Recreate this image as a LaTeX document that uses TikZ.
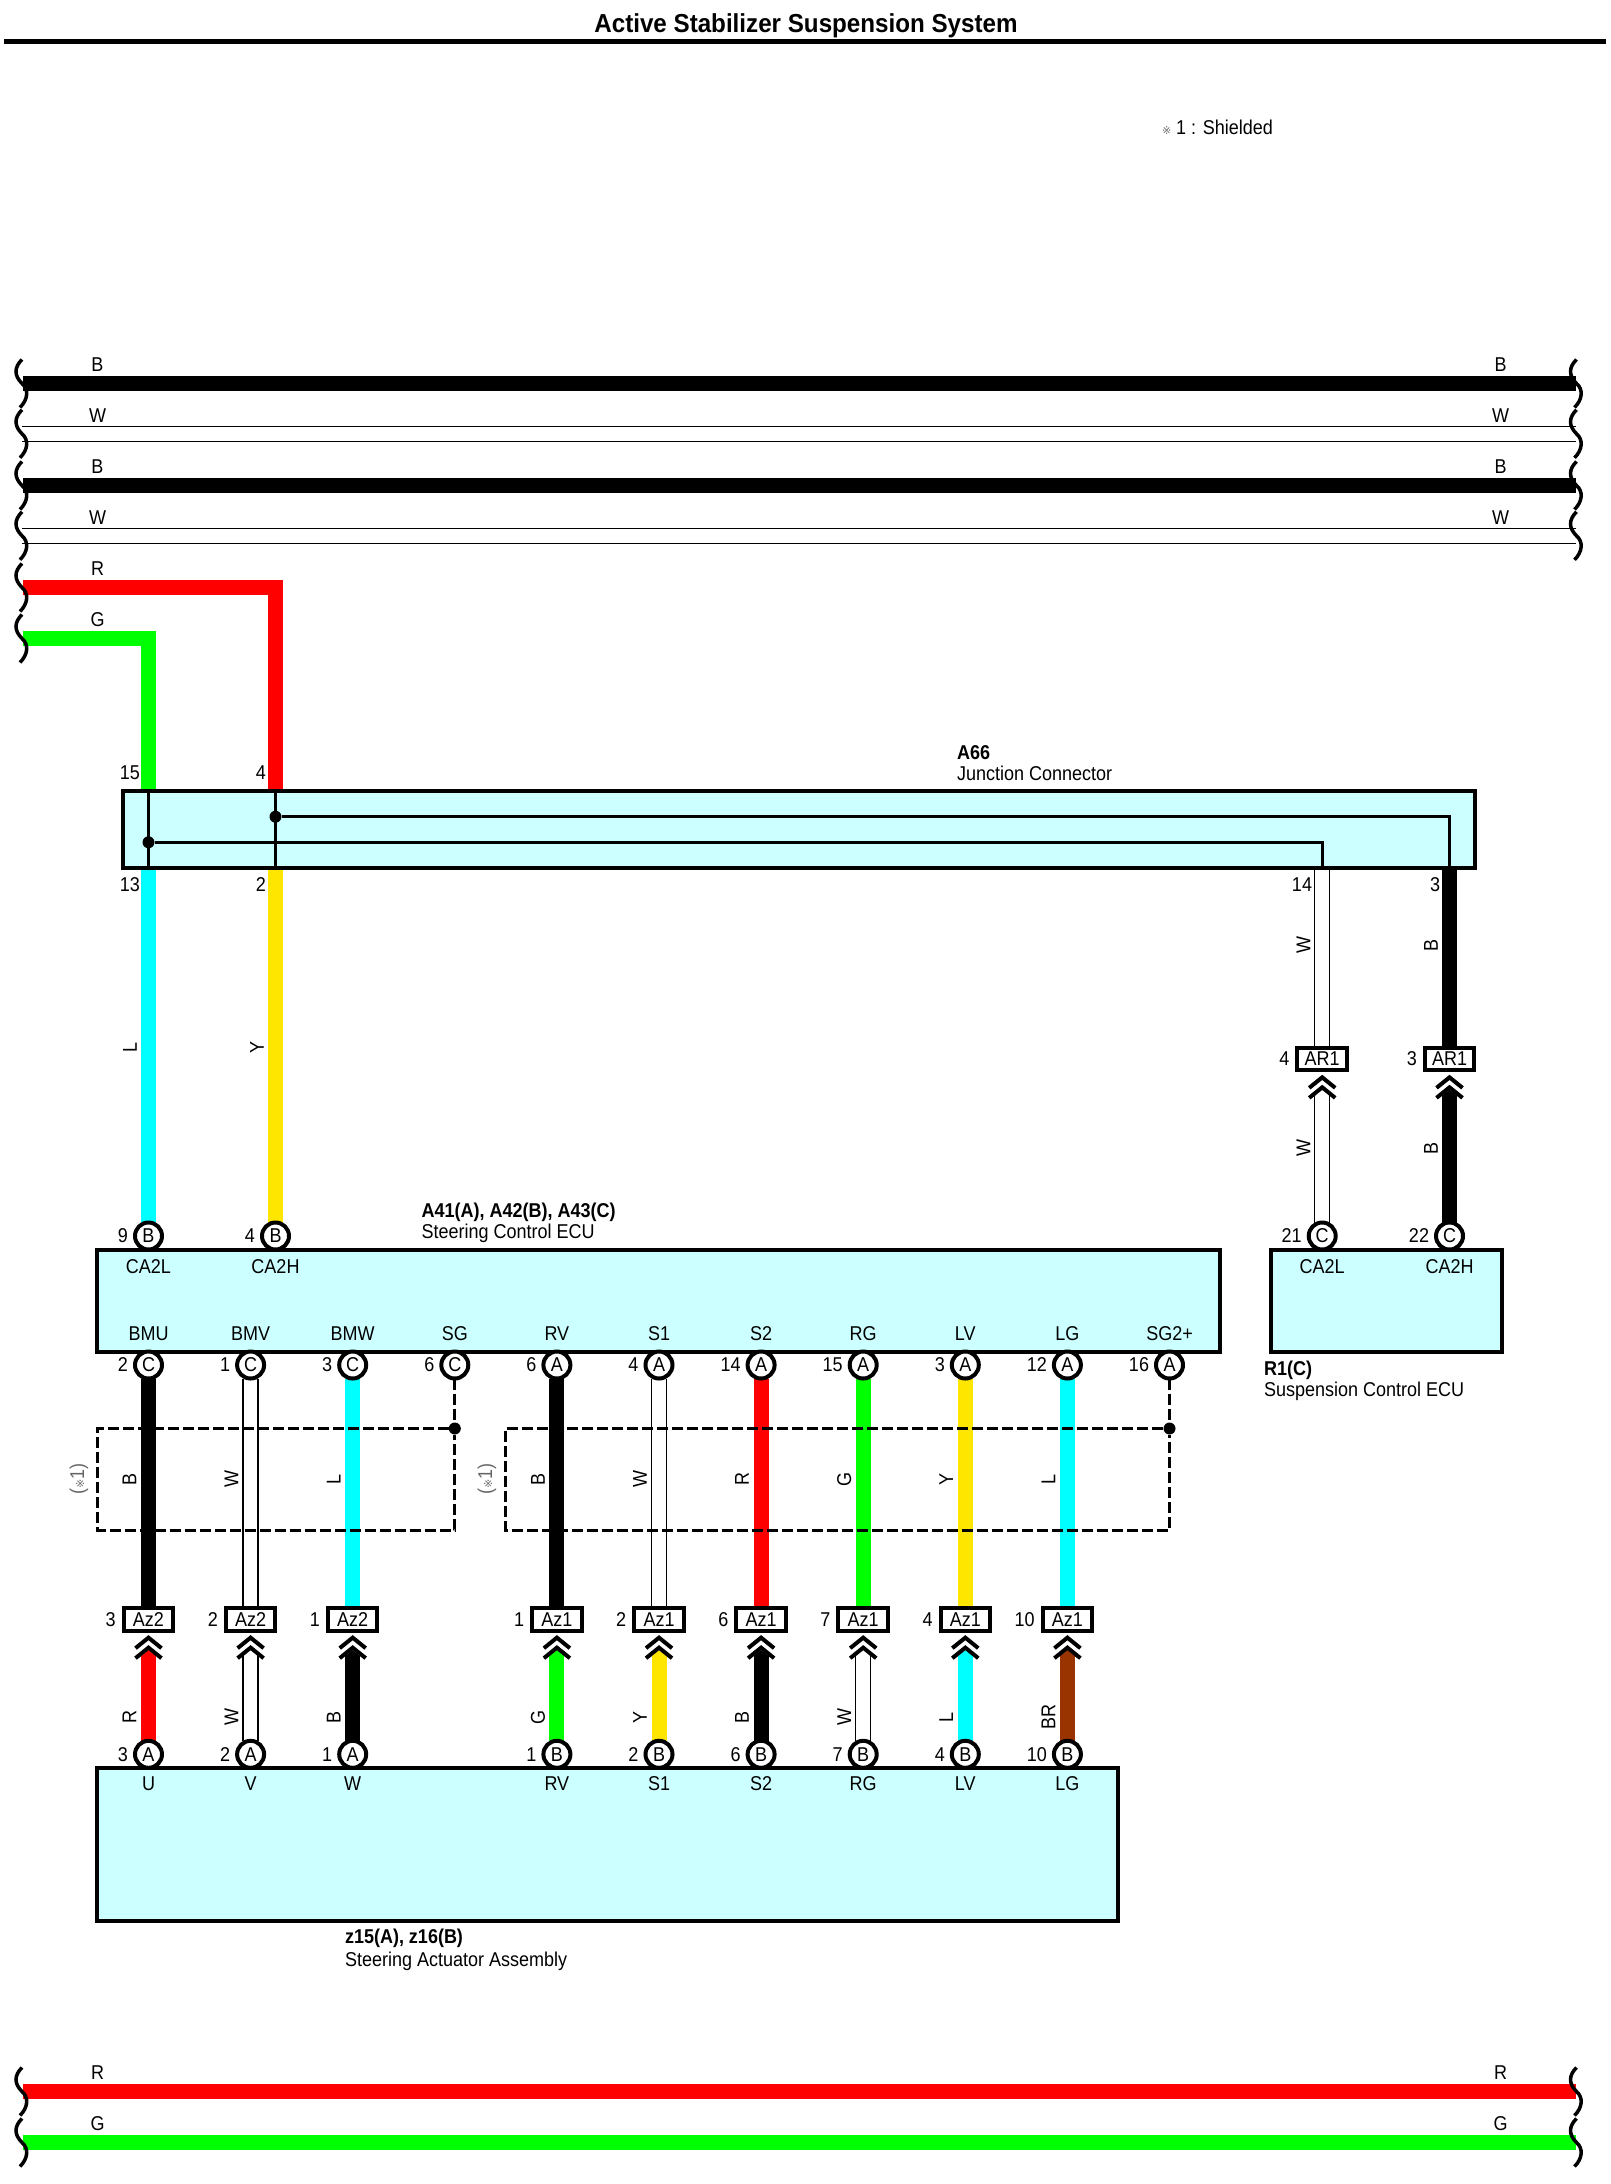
\documentclass[tikz,border=0pt]{standalone}
\usepackage{fontspec}
\setmainfont[FakeStretch=0.9]{Liberation Sans}
\newfontfamily\titlefont[FakeStretch=0.93]{Liberation Sans}
\newfontfamily\marksym{DejaVu Sans}
\usetikzlibrary{arrows.meta}
\pgfdeclarelayer{bg}
\pgfsetlayers{bg,main}
\definecolor{ecufill}{HTML}{CCFFFF}
\definecolor{wirecyan}{HTML}{00FFFF}
\definecolor{wireyellow}{HTML}{FFE600}
\definecolor{wirebrown}{HTML}{993300}
\definecolor{wiregreen}{HTML}{00FF00}
\definecolor{wirered}{HTML}{FF0000}
\newcommand{\shmark}{{\marksym\fontsize{11}{12}\selectfont\textcolor{black!55}{※}}}
\tikzset{
  txt/.style={inner sep=0pt,outer sep=0pt,font=\fontsize{20}{24}\selectfont},
  boldtxt/.style={txt,anchor=base west,font=\fontsize{20}{24}\selectfont\bfseries},
  plaintxt/.style={txt,anchor=base west},
  wtag/.style={txt,rotate=90},
  ecubox/.style={draw,line width=4pt,fill=ecufill,anchor=north west,inner sep=0pt,outer sep=0pt},
  termc/.style={txt,circle,draw,line width=4pt,fill=white,minimum size=27pt},
  azbox/.style={txt,rectangle,draw,line width=4pt,fill=white,minimum width=49.5pt,minimum height=22.7pt},
  numc/.style={label={[txt,xshift=-7pt]left:#1}},
  numa/.style={label={[txt,xshift=-8pt]left:#1}},
  wire/.style={line width=15pt},
  wireblk/.style={wire,draw=black},
  wirecyn/.style={wire,draw=wirecyan},
  wireyel/.style={wire,draw=wireyellow},
  wirered/.style={wire,draw=wirered},
  wiregrn/.style={wire,draw=wiregreen},
  wirebrn/.style={wire,draw=wirebrown},
  wirewht/.style={line width=1.3pt,draw=black,double=white,double distance=13.7pt},
  tipup/.style={shorten >=19.5pt,-{Triangle[width=15pt,length=6pt]}},
  wirewhtup/.style={wirewht,shorten >=22pt},
  inner/.style={line width=3pt},
  shield/.style={line width=3pt,dash pattern=on 11pt off 4pt},
  jdot/.style={circle,fill=black,inner sep=0pt,minimum size=12pt},
  brk/.pic={\draw[line width=3.5pt] (1,-24) .. controls (-7,-16) and (-7,-8) .. (1,0) .. controls (8,6) and (7,16) .. (-1,24);},
  chevs/.pic={
    \draw[line width=4pt] (-13,17.5) -- (0,7) -- (13,17.5);
    \draw[line width=4pt] (-13,27.5) -- (0,17) -- (13,27.5);
  }
}
\begin{document}
\begin{tikzpicture}[x=1pt,y=-1pt]
  \useasboundingbox (0,0) rectangle (1611,2184);

  \coordinate (ruleL) at (4,41.5);
  \coordinate (ruleR) at (1606,41.5);
  \draw[line width=5pt] (ruleL) -- (ruleR);
  \node[txt,anchor=base,font=\fontsize{26}{30}\selectfont\titlefont\bfseries] (title) at (806,33) {Active Stabilizer Suspension System};
  \node[plaintxt] (shnote) at (1162,134) {\shmark\ 1 : Shielded};

  \coordinate (bL1) at (21,383.5);
  \coordinate (bR1) at (1575.5,383.5);
  \coordinate (wL1) at (21,433.8);
  \coordinate (wR1) at (1575.5,433.8);
  \coordinate (bL2) at (21,485.5);
  \coordinate (bR2) at (1575.5,485.5);
  \coordinate (wL2) at (21,535.8);
  \coordinate (wR2) at (1575.5,535.8);
  \coordinate (rL1) at (21,587.5);
  \coordinate (gL1) at (21,638.5);
  \coordinate (rL2) at (21,2091.5);
  \coordinate (rR2) at (1575.5,2091.5);
  \coordinate (gL2) at (21,2142.5);
  \coordinate (gR2) at (1575.5,2142.5);

  \node[txt] (tB1) at (97.5,365) {B};
  \node[txt] (tW1) at (97.5,416) {W};
  \node[txt] (tB2) at (97.5,467) {B};
  \node[txt] (tW2) at (97.5,518) {W};
  \node[txt] (tR1) at (97.5,569) {R};
  \node[txt] (tG1) at (97.5,620) {G};
  \node[txt] (tB3) at (1500.5,365) {B};
  \node[txt] (tW3) at (1500.5,416) {W};
  \node[txt] (tB4) at (1500.5,467) {B};
  \node[txt] (tW4) at (1500.5,518) {W};
  \node[txt] (tR2) at (97.5,2073) {R};
  \node[txt] (tG2) at (97.5,2124) {G};
  \node[txt] (tR3) at (1500.5,2073) {R};
  \node[txt] (tG3) at (1500.5,2124) {G};

  \node[ecubox,minimum width=1352.5pt,minimum height=77pt] (jc) at (122.7,791) {};
  \node[plaintxt,font=\fontsize{20}{24}\selectfont\bfseries] (jcid) at (957,759) {A66};
  \node[plaintxt] (jcname) at (957,780) {Junction Connector};
  \node[ecubox,minimum width=1123.7pt,minimum height=101.7pt] (ecu) at (96.7,1250) {};
  \node[boldtxt] (ecuid) at (421.7,1217) {A41(A), A42(B), A43(C)};
  \node[plaintxt] (ecuname) at (421.7,1238) {Steering Control ECU};
  \node[ecubox,minimum width=231pt,minimum height=101.7pt] (susp) at (1270.5,1250) {};
  \node[boldtxt] (suspid) at (1264,1375) {R1(C)};
  \node[plaintxt] (suspname) at (1264,1396) {Suspension Control ECU};
  \node[ecubox,minimum width=1021.6pt,minimum height=152.7pt] (act) at (96.7,1768) {};
  \node[boldtxt] (actid) at (345,1943) {z15(A), z16(B)};
  \node[plaintxt] (actname) at (345,1966) {Steering Actuator Assembly};

  \coordinate (j15) at (148.5,791);
  \coordinate (j13) at (148.5,868);
  \coordinate (j4) at (275.5,791);
  \coordinate (j2) at (275.5,868);
  \coordinate (j14) at (1322.2,868);
  \coordinate (j3) at (1449.5,868);
  \node[jdot] (jd1) at (148.5,842.3) {};
  \node[jdot] (jd2) at (275.5,816.7) {};
  \draw[inner] (j15) -- (j13);
  \draw[inner] (j4) -- (j2);
  \draw[inner] (jd1) -| (j14);
  \draw[inner] (jd2) -| (j3);

  \node[txt,anchor=east] (n15) at (140,773) {15};
  \node[txt,anchor=east] (n4) at (266,773) {4};
  \node[txt,anchor=east] (n13) at (140,885) {13};
  \node[txt,anchor=east] (n2) at (266,885) {2};
  \node[txt,anchor=east] (n14) at (1312,885) {14};
  \node[txt,anchor=east] (n3) at (1440,885) {3};

  \node[termc,numc=9] (e9) at (148.5,1236) {B};
  \node[termc,numc=4] (e4) at (275.5,1236) {B};
  \node[termc,numc=21] (s21) at (1322.2,1236) {C};
  \node[termc,numc=22] (s22) at (1449.5,1236) {C};
  \node[azbox,numa=4] (ar4) at (1322.2,1059) {AR1};
  \node[azbox,numa=3] (ar3) at (1449.5,1059) {AR1};

  \node[txt] (pCA2L) at (148.5,1267) {CA2L};
  \node[txt] (pCA2H) at (275.5,1267) {CA2H};
  \node[txt] (qCA2L) at (1322.2,1267) {CA2L};
  \node[txt] (qCA2H) at (1449.5,1267) {CA2H};

  \node[txt] (pBMU) at (148.5,1334) {BMU};
  \node[txt] (pBMV) at (250.6,1334) {BMV};
  \node[txt] (pBMW) at (352.7,1334) {BMW};
  \node[txt] (pSG) at (454.8,1334) {SG};
  \node[txt] (pRV) at (556.9,1334) {RV};
  \node[txt] (pS1) at (659,1334) {S1};
  \node[txt] (pS2) at (761.1,1334) {S2};
  \node[txt] (pRG) at (863.2,1334) {RG};
  \node[txt] (pLV) at (965.3,1334) {LV};
  \node[txt] (pLG) at (1067.4,1334) {LG};
  \node[txt] (pSGp) at (1169.5,1334) {SG2+};

  \node[termc,numc=2] (c1) at (148.5,1365) {C};
  \node[termc,numc=1] (c2) at (250.6,1365) {C};
  \node[termc,numc=3] (c3) at (352.7,1365) {C};
  \node[termc,numc=6] (c4) at (454.8,1365) {C};
  \node[termc,numc=6] (c5) at (556.9,1365) {A};
  \node[termc,numc=4] (c6) at (659,1365) {A};
  \node[termc,numc=14] (c7) at (761.1,1365) {A};
  \node[termc,numc=15] (c8) at (863.2,1365) {A};
  \node[termc,numc=3] (c9) at (965.3,1365) {A};
  \node[termc,numc=12] (c10) at (1067.4,1365) {A};
  \node[termc,numc=16] (c11) at (1169.5,1365) {A};

  \node[azbox,numa=3] (az1) at (148.5,1619.3) {Az2};
  \node[azbox,numa=2] (az2) at (250.6,1619.3) {Az2};
  \node[azbox,numa=1] (az3) at (352.7,1619.3) {Az2};
  \node[azbox,numa=1] (az5) at (556.9,1619.3) {Az1};
  \node[azbox,numa=2] (az6) at (659,1619.3) {Az1};
  \node[azbox,numa=6] (az7) at (761.1,1619.3) {Az1};
  \node[azbox,numa=7] (az8) at (863.2,1619.3) {Az1};
  \node[azbox,numa=4] (az9) at (965.3,1619.3) {Az1};
  \node[azbox,numa=10] (az10) at (1067.4,1619.3) {Az1};

  \node[termc,numc=3] (m1) at (148.5,1754.3) {A};
  \node[termc,numc=2] (m2) at (250.6,1754.3) {A};
  \node[termc,numc=1] (m3) at (352.7,1754.3) {A};
  \node[termc,numc=1] (m5) at (556.9,1754.3) {B};
  \node[termc,numc=2] (m6) at (659,1754.3) {B};
  \node[termc,numc=6] (m7) at (761.1,1754.3) {B};
  \node[termc,numc=7] (m8) at (863.2,1754.3) {B};
  \node[termc,numc=4] (m9) at (965.3,1754.3) {B};
  \node[termc,numc=10] (m10) at (1067.4,1754.3) {B};

  \node[txt] (pU) at (148.5,1784) {U};
  \node[txt] (pV) at (250.6,1784) {V};
  \node[txt] (pW) at (352.7,1784) {W};
  \node[txt] (qRV) at (556.9,1784) {RV};
  \node[txt] (qS1) at (659,1784) {S1};
  \node[txt] (qS2) at (761.1,1784) {S2};
  \node[txt] (qRG) at (863.2,1784) {RG};
  \node[txt] (qLV) at (965.3,1784) {LV};
  \node[txt] (qLG) at (1067.4,1784) {LG};

  \begin{pgfonlayer}{bg}
    \draw[wireblk,shorten <=2pt] (bL1) -- (bR1);
    \draw[wirewht,shorten <=1pt] (wL1) -- (wR1);
    \draw[wireblk,shorten <=2pt] (bL2) -- (bR2);
    \draw[wirewht,shorten <=1pt] (wL2) -- (wR2);
    \draw[wirered,shorten <=2pt] (rL1) -| (j4);
    \draw[wiregrn,shorten <=2pt] (gL1) -| (j15);
    \draw[wirered,shorten <=2pt] (rL2) -- (rR2);
    \draw[wiregrn,shorten <=2pt] (gL2) -- (gR2);

    \draw[wirecyn] (j13) -- (e9);
    \draw[wireyel] (j2) -- (e4);
    \draw[wirewht] (j14) -- (ar4);
    \draw[wireblk] (j3) -- (ar3);
    \draw[wirewhtup] (s21) -- (ar4.south);
    \draw[wireblk,tipup] (s22) -- (ar3.south);

    \draw[wireblk] (c1) -- (az1);
    \draw[wirewht] (c2) -- (az2);
    \draw[wirecyn] (c3) -- (az3);
    \draw[wireblk] (c5) -- (az5);
    \draw[wirewht] (c6) -- (az6);
    \draw[wirered] (c7) -- (az7);
    \draw[wiregrn] (c8) -- (az8);
    \draw[wireyel] (c9) -- (az9);
    \draw[wirecyn] (c10) -- (az10);

    \draw[wirered,tipup] (m1) -- (az1.south);
    \draw[wirewhtup] (m2) -- (az2.south);
    \draw[wireblk,tipup] (m3) -- (az3.south);
    \draw[wiregrn,tipup] (m5) -- (az5.south);
    \draw[wireyel,tipup] (m6) -- (az6.south);
    \draw[wireblk,tipup] (m7) -- (az7.south);
    \draw[wirewhtup] (m8) -- (az8.south);
    \draw[wirecyn,tipup] (m9) -- (az9.south);
    \draw[wirebrn,tipup] (m10) -- (az10.south);
  \end{pgfonlayer}

  \pic at (bL1) {brk};
  \pic at (wL1) {brk};
  \pic at (bL2) {brk};
  \pic at (wL2) {brk};
  \pic at (rL1) {brk};
  \pic at (gL1) {brk};
  \pic at (bR1) {brk};
  \pic at (wR1) {brk};
  \pic at (bR2) {brk};
  \pic at (wR2) {brk};
  \pic at (rL2) {brk};
  \pic at (gL2) {brk};
  \pic at (rR2) {brk};
  \pic at (gR2) {brk};

  \pic at (ar4.south) {chevs};
  \pic at (ar3.south) {chevs};
  \pic at (az1.south) {chevs};
  \pic at (az2.south) {chevs};
  \pic at (az3.south) {chevs};
  \pic at (az5.south) {chevs};
  \pic at (az6.south) {chevs};
  \pic at (az7.south) {chevs};
  \pic at (az8.south) {chevs};
  \pic at (az9.south) {chevs};
  \pic at (az10.south) {chevs};

  \node[jdot] (sd1) at (454.8,1428.5) {};
  \node[jdot] (sd2) at (1169.5,1428.5) {};
  \draw[shield] (c4) -- (sd1);
  \draw[shield] (c11) -- (sd2);
  \draw[shield] (sd1) -- (97.3,1428.5) -- (97.3,1530) -- (454.8,1530) -- (sd1);
  \draw[shield] (sd2) -- (505.7,1428.5) -- (505.7,1530) -- (1169.5,1530) -- (sd2);
  \node[wtag] (sh1) at (79,1479) {\textcolor{black!60}{(\shmark1)}};
  \node[wtag] (sh2) at (487,1479) {\textcolor{black!60}{(\shmark1)}};

  \node[wtag] (lL) at (130,1047) {L};
  \node[wtag] (lY) at (257,1047) {Y};
  \node[wtag] (lW1) at (1303.5,945) {W};
  \node[wtag] (lB1) at (1431,945) {B};
  \node[wtag] (lW2) at (1303.5,1148) {W};
  \node[wtag] (lB2) at (1431,1148) {B};

  \node[wtag] (u1) at (129.5,1479) {B};
  \node[wtag] (u2) at (231.6,1479) {W};
  \node[wtag] (u3) at (333.7,1479) {L};
  \node[wtag] (u5) at (537.9,1479) {B};
  \node[wtag] (u6) at (640,1479) {W};
  \node[wtag] (u7) at (742.1,1479) {R};
  \node[wtag] (u8) at (844.2,1479) {G};
  \node[wtag] (u9) at (946.3,1479) {Y};
  \node[wtag] (u10) at (1048.4,1479) {L};

  \node[wtag] (d1) at (129.5,1717) {R};
  \node[wtag] (d2) at (231.6,1717) {W};
  \node[wtag] (d3) at (333.7,1717) {B};
  \node[wtag] (d5) at (537.9,1717) {G};
  \node[wtag] (d6) at (640,1717) {Y};
  \node[wtag] (d7) at (742.1,1717) {B};
  \node[wtag] (d8) at (844.2,1717) {W};
  \node[wtag] (d9) at (946.3,1717) {L};
  \node[wtag] (d10) at (1048.4,1717) {BR};
\end{tikzpicture}
\end{document}
